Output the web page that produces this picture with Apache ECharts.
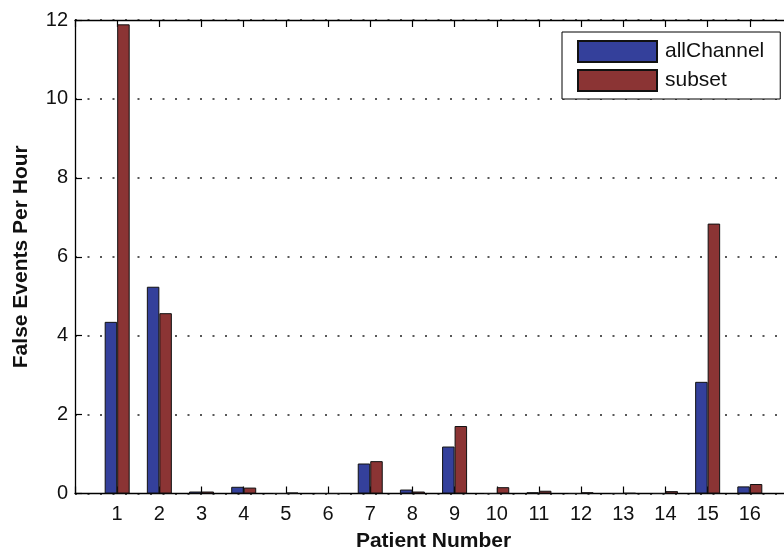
<!DOCTYPE html>
<html>
<head>
<meta charset="utf-8">
<script src="https://cdn.jsdelivr.net/npm/echarts@6/dist/echarts.min.js"></script>
<style>
  html, body { margin: 0; padding: 0; background: #fff; overflow: hidden; }
  #chart { width: 784px; height: 551px; }
</style>
</head>
<body>
<div id="chart"></div>
<script>
// Patient numbers along the x axis
const patients = [1, 2, 3, 4, 5, 6, 7, 8, 9, 10, 11, 12, 13, 14, 15, 16];
// False events per hour, detector using all channels
const allChannel = [4.35, 5.24, 0.05, 0.17, 0.0, 0.0, 0.76, 0.10, 1.19, 0.0, 0.03, 0.0, 0.0, 0.0, 2.83, 0.18];
// False events per hour, detector using a channel subset
const subset = [11.89, 4.57, 0.05, 0.15, 0.02, 0.0, 0.82, 0.05, 1.71, 0.16, 0.07, 0.03, 0.01, 0.06, 6.84, 0.24];
// Y axis tick values
const yTicks = [0, 2, 4, 6, 8, 10, 12];

const font = '"Liberation Sans", Arial, Helvetica, sans-serif';
const pairs = (vals) => patients.map((p, i) => [p, vals[i]]);

const chart = echarts.init(document.getElementById('chart'), null, { renderer: 'canvas' });

chart.setOption({
  animation: false,
  backgroundColor: '#ffffff',
  grid: {
    left: 75, right: -8, top: 20, bottom: 57.5,
    containLabel: false,
    outerBoundsMode: 'none'
  },
  legend: {
    orient: 'vertical',
    left: 562,
    top: 32,
    padding: [8, 16, 7, 15],
    itemWidth: 79,
    itemHeight: 21,
    itemGap: 6,
    backgroundColor: '#ffffff',
    borderColor: '#000000',
    borderWidth: 1,
    borderRadius: 0,
    icon: 'rect',
    textStyle: { fontFamily: font, fontSize: 21, color: '#111', padding: [0, 0, 0, 3] },
    data: ['allChannel', 'subset']
  },
  xAxis: [
    {
      type: 'value',
      min: 0,
      max: 17,
      interval: 1,
      name: 'Patient Number',
      nameLocation: 'middle',
      nameGap: 37,
      nameTextStyle: { fontFamily: font, fontSize: 21, fontWeight: 'bold', color: '#111' },
      axisLine: { show: true, lineStyle: { color: '#000', width: 1.3 } },
      axisTick: { show: true, inside: true, length: 7, lineStyle: { color: '#000', width: 1.2 } },
      axisLabel: {
        fontFamily: font, fontSize: 20, color: '#111', margin: 11,
        formatter: (v) => (patients.indexOf(v) >= 0 ? String(v) : '')
      },
      splitLine: { show: false }
    },
    {
      type: 'value',
      position: 'top',
      min: 0,
      max: 17,
      interval: 1,
      axisLine: { show: true, lineStyle: { color: '#000', width: 1.3 } },
      axisTick: { show: true, inside: true, length: 7, lineStyle: { color: '#000', width: 1.2 } },
      axisLabel: { show: false },
      splitLine: { show: false }
    }
  ],
  yAxis: {
    type: 'value',
    min: yTicks[0],
    max: yTicks[yTicks.length - 1],
    interval: 2,
    name: 'False Events Per Hour',
    nameLocation: 'middle',
    nameGap: 43,
    nameTextStyle: { fontFamily: font, fontSize: 21, fontWeight: 'bold', color: '#111' },
    axisLine: { show: true, lineStyle: { color: '#000', width: 1.3 } },
    axisTick: { show: true, inside: true, length: 7, lineStyle: { color: '#000', width: 1.2 } },
    axisLabel: { fontFamily: font, fontSize: 20, color: '#111', margin: 7 },
    splitLine: {
      show: true,
      lineStyle: { color: '#222', width: 1.6, type: [2, 10.5] }
    }
  },
  series: [
    {
      name: 'allChannel',
      type: 'bar',
      xAxisIndex: 0,
      barWidth: 12.5,
      barGap: '0%',
      itemStyle: { color: '#34409b', borderColor: '#111', borderWidth: 1 },
      data: pairs(allChannel)
    },
    {
      name: 'subset',
      type: 'bar',
      xAxisIndex: 0,
      barWidth: 12.5,
      barGap: '0%',
      itemStyle: { color: '#8b3434', borderColor: '#111', borderWidth: 1 },
      data: pairs(subset)
    }
  ]
});
</script>
</body>
</html>
